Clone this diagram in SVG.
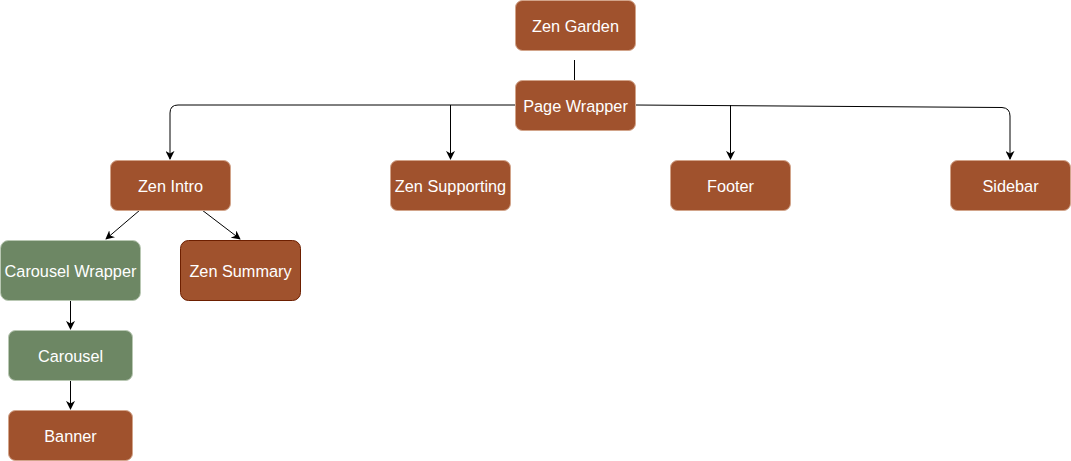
<svg xmlns="http://www.w3.org/2000/svg" width="1071" height="461" viewBox="0 0 1071 461">
<style>
.n rect{stroke-width:1}
.b rect{fill:#A0522D;stroke:#D2A48A}
.g rect{fill:#6D8764;stroke:#B9C8B3}
.s rect{fill:#A0522D;stroke:#6D1F00}
text{font-family:"Liberation Sans",Arial,sans-serif;font-size:16.3px;fill:#fff;text-anchor:middle;dominant-baseline:central}
.e path{fill:none;stroke:#000;stroke-width:1}
</style>
<defs>
<marker id="a" viewBox="0 0 10 10" refX="9" refY="5" markerWidth="9" markerHeight="9" markerUnits="userSpaceOnUse" orient="auto">
<path d="M0,0 L10,5 L0,10 L3,5 Z" fill="#000"/>
</marker>
</defs>
<g class="e">
<path d="M574.5,60 V80"/>
<path d="M515,105 H178 Q170,105 170,113 V159" marker-end="url(#a)"/>
<path d="M635,105 L1002,107.5 Q1010,108 1010,116 V159" marker-end="url(#a)"/>
<path d="M450.5,105 V159" marker-end="url(#a)"/>
<path d="M730.5,105 V159" marker-end="url(#a)"/>
<path d="M140,210 L106,239" marker-end="url(#a)" stroke="#444"/>
<path d="M202,210 L240,239" marker-end="url(#a)"/>
<path d="M70.5,300 V329" marker-end="url(#a)"/>
<path d="M70.5,380 V409" marker-end="url(#a)"/>
</g>
<g id="zen-garden" class="n b"><rect x="515.5" y="0.5" width="120" height="50" rx="7"/><text x="575.5" y="25.5">Zen Garden</text></g>
<g id="page-wrapper" class="n b"><rect x="515.5" y="80.5" width="120" height="50" rx="7"/><text x="575.5" y="105.5">Page Wrapper</text></g>
<g id="zen-intro" class="n b"><rect x="110.5" y="160.5" width="120" height="50" rx="7"/><text x="170.5" y="185.5">Zen Intro</text></g>
<g id="zen-supporting" class="n b"><rect x="390.5" y="160.5" width="120" height="50" rx="7"/><text x="450.5" y="185.5">Zen Supporting</text></g>
<g id="footer" class="n b"><rect x="670.5" y="160.5" width="120" height="50" rx="7"/><text x="730.5" y="185.5">Footer</text></g>
<g id="sidebar" class="n b"><rect x="950.5" y="160.5" width="120" height="50" rx="7"/><text x="1010.5" y="185.5">Sidebar</text></g>
<g id="carousel-wrapper" class="n g"><rect x="0.5" y="240.5" width="140" height="60" rx="8"/><text x="70.5" y="270.5">Carousel Wrapper</text></g>
<g id="zen-summary" class="n s"><rect x="180.5" y="240.5" width="120" height="60" rx="8"/><text x="240.5" y="270.5">Zen Summary</text></g>
<g id="carousel" class="n g"><rect x="8.5" y="330.5" width="124" height="50" rx="7"/><text x="70.5" y="355.5">Carousel</text></g>
<g id="banner" class="n b"><rect x="8.5" y="410.5" width="124" height="50" rx="7"/><text x="70.5" y="435.5">Banner</text></g>
</svg>
